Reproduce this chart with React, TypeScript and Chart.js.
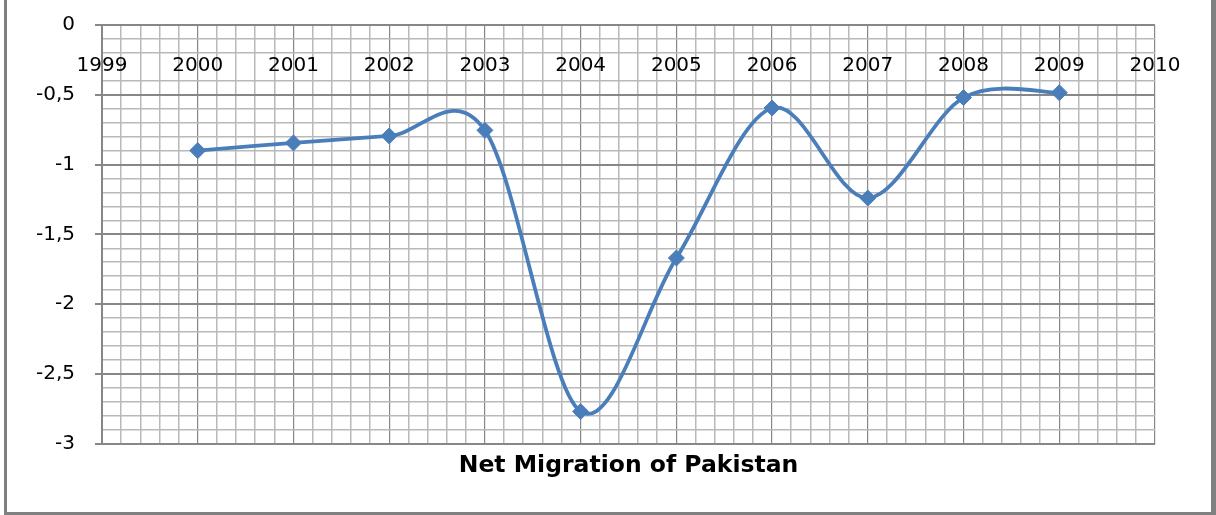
import React, { useEffect, useRef } from 'react';
import { Chart, registerables } from 'chart.js';

Chart.register(...registerables);

const years = [2000, 2001, 2002, 2003, 2004, 2005, 2006, 2007, 2008, 2009];
const netMigration = [-0.9, -0.845, -0.795, -0.755, -2.77, -1.67, -0.595, -1.24, -0.52, -0.485];
const xTickValues = [1999, 2000, 2001, 2002, 2003, 2004, 2005, 2006, 2007, 2008, 2009, 2010];
const xTickLabels = ['1999', '2000', '2001', '2002', '2003', '2004', '2005', '2006', '2007', '2008', '2009', '2010'];
const yTickValues = [0, -0.5, -1, -1.5, -2, -2.5, -3];
const yTickLabels = ['0', '-0,5', '-1', '-1,5', '-2', '-2,5', '-3'];
const chartTitle = 'Net Migration of Pakistan';

const FONT = '"DejaVu Sans", sans-serif';
const LINE_BLUE = '#4A7EBB';
const MAJOR = '#878787';
const MINOR = '#b9b9b9';

const near = (a: number, b: number) => Math.abs(a - b) < 1e-6;
const isMajorY = (v: number) => near(v * 2, Math.round(v * 2));
const isMajorX = (v: number) => near(v, Math.round(v));

// Excel-style smoothing: uniform Catmull-Rom control points
const excelSmooth = {
  id: 'excelSmooth',
  beforeDatasetDraw(chart: any, args: any) {
    const meta = args.meta;
    const line = meta.dataset;
    if (!line) return;
    line.updateControlPoints(chart.chartArea, 'x');
    const pts = meta.data;
    for (let i = 0; i < pts.length; i++) {
      const p = pts[i];
      const prev = pts[i - 1] || p;
      const next = pts[i + 1] || p;
      const dx = (next.x - prev.x) / 6;
      const dy = (next.y - prev.y) / 6;
      p.cp1x = p.x - dx;
      p.cp1y = p.y - dy;
      p.cp2x = p.x + dx;
      p.cp2y = p.y + dy;
    }
    line._pointsUpdated = true;
    delete line._path;
  },
};

const topLabels = {
  id: 'topLabels',
  afterDraw(chart: any) {
    const { ctx, scales } = chart;
    const x = scales.x;
    const y = scales.y;
    ctx.save();
    ctx.font = '20px ' + FONT;
    ctx.fillStyle = '#000';
    ctx.textAlign = 'center';
    ctx.textBaseline = 'alphabetic';
    const py = y.getPixelForValue(-0.33);
    xTickLabels.forEach((lab, i) => {
      ctx.fillText(lab, x.getPixelForValue(xTickValues[i]), py);
    });
    ctx.restore();
  },
};

export default function App() {
  const ref = useRef<HTMLCanvasElement | null>(null);

  useEffect(() => {
    if (!ref.current) return;
    const chart = new Chart(ref.current, {
      type: 'line',
      data: {
        datasets: [
          {
            data: years.map((yr, i) => ({ x: yr, y: netMigration[i] })),
            borderColor: LINE_BLUE,
            backgroundColor: LINE_BLUE,
            borderWidth: 3.8,
            pointStyle: 'rectRot',
            pointRadius: 8,
            pointBackgroundColor: LINE_BLUE,
            pointBorderColor: LINE_BLUE,
            pointBorderWidth: 1,
            tension: 0.4,
            fill: false,
            clip: false as any,
          },
        ],
      },
      options: {
        animation: false,
        responsive: false,
        devicePixelRatio: 1,
        layout: { padding: { top: 25, right: 61, left: 0, bottom: 0 } },
        plugins: {
          legend: { display: false },
          tooltip: { enabled: false },
          title: {
            display: true,
            position: 'bottom',
            fullSize: false,
            text: chartTitle,
            color: '#000',
            font: { family: FONT, size: 23.5, weight: 'bold', lineHeight: 1.2 },
            padding: { top: 8.6, bottom: 34.6 },
          },
        },
        scales: {
          x: {
            type: 'linear',
            min: 1999,
            max: 2010,
            ticks: { display: false, stepSize: 0.2, autoSkip: false },
            grid: {
              drawTicks: false,
              tickLength: 0,
              color: (c: any) => (isMajorX(c.tick.value) ? MAJOR : MINOR),
              lineWidth: (c: any) => (isMajorX(c.tick.value) ? 1.2 : 1.5),
            },
            border: { display: true, color: MAJOR, width: 2 },
          },
          y: {
            type: 'linear',
            min: -3,
            max: 0,
            afterFit: (s: any) => {
              s.width = 102;
              s.paddingTop = 12;
              s.paddingBottom = 12;
            },
            ticks: {
              stepSize: 0.1,
              autoSkip: false,
              padding: 20,
              color: '#000',
              font: { family: FONT, size: 20 },
              callback: (v: any) => {
                const idx = yTickValues.findIndex((t) => near(t, Number(v)));
                return idx >= 0 ? yTickLabels[idx] : '';
              },
            },
            grid: {
              tickLength: 7,
              tickColor: (c: any) => (isMajorY(c.tick.value) ? MAJOR : 'rgba(0,0,0,0)'),
              tickWidth: 2,
              color: (c: any) => {
                const v = c.tick.value;
                if (near(v, -0.3)) return 'rgba(0,0,0,0)';
                return isMajorY(v) ? MAJOR : MINOR;
              },
              lineWidth: (c: any) => (isMajorY(c.tick.value) ? 2 : 1.5),
            },
            border: { display: true, color: MAJOR, width: 2 },
          },
        },
      },
      plugins: [excelSmooth, topLabels],
    } as any);
    return () => chart.destroy();
  }, []);

  return (
    <div style={{ position: 'fixed', left: 0, top: 0, width: 1216, height: 515, background: '#fff', overflow: 'hidden' }}>
      <canvas ref={ref} width={1216} height={515} style={{ display: 'block' }} />
      <div
        style={{
          position: 'absolute',
          left: 4,
          top: -10,
          right: 0,
          bottom: 0,
          boxSizing: 'border-box',
          borderLeft: '3px solid #808080',
          borderRight: '5px solid #808080',
          borderBottom: '3px solid #808080',
          borderTop: '3px solid #808080',
          pointerEvents: 'none',
        }}
      />
    </div>
  );
}
